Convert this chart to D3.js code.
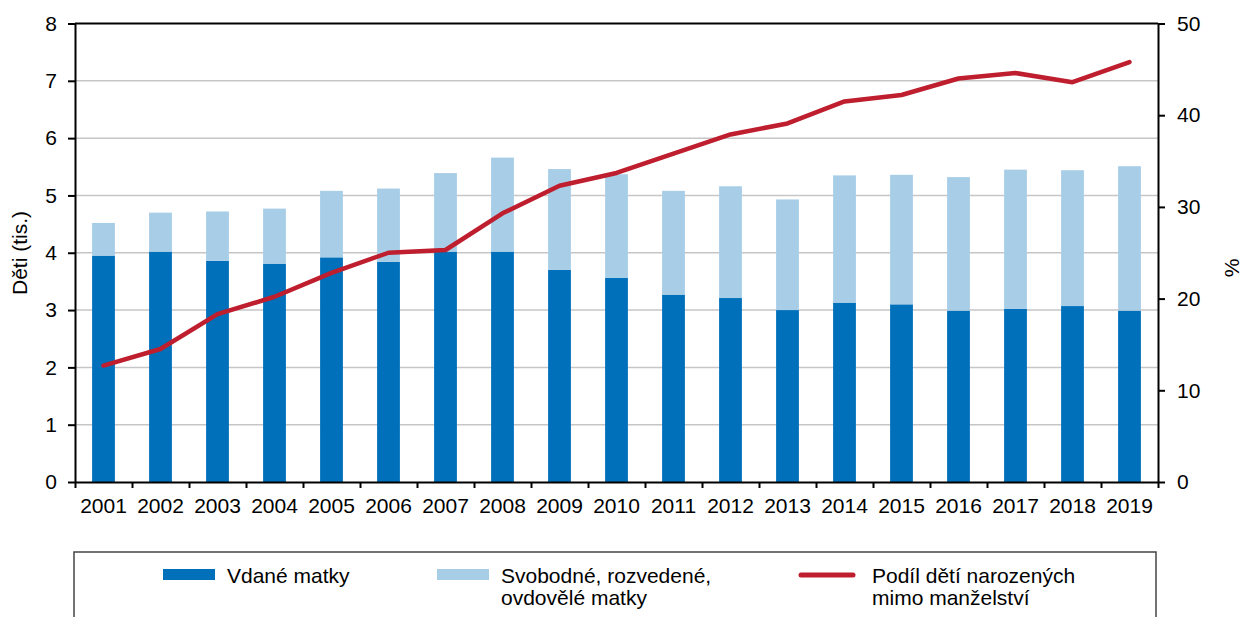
<!DOCTYPE html>
<html>
<head>
<meta charset="utf-8">
<script src="https://cdn.jsdelivr.net/npm/d3@7"></script>
<style>
  html, body { margin: 0; padding: 0; background: #fff; }
  svg { display: block; font-family: "Liberation Sans", Arial, sans-serif; }
</style>
</head>
<body>
<svg id="chart" width="1242" height="617"></svg>
<script>
const years = ["2001","2002","2003","2004","2005","2006","2007","2008","2009","2010",
               "2011","2012","2013","2014","2015","2016","2017","2018","2019"];
// thousands of children born to married mothers
const married = [3.95, 4.02, 3.86, 3.81, 3.92, 3.84, 4.02, 4.02, 3.70, 3.56,
                 3.27, 3.21, 3.00, 3.13, 3.10, 2.99, 3.02, 3.07, 2.99];
// thousands of children born to single, divorced, widowed mothers
const unmarried = [0.57, 0.68, 0.86, 0.96, 1.16, 1.28, 1.37, 1.64, 1.76, 1.81,
                   1.81, 1.95, 1.93, 2.22, 2.26, 2.33, 2.43, 2.37, 2.52];
// share of children born outside marriage (%)
const share = [12.7, 14.5, 18.3, 20.2, 22.8, 25.0, 25.3, 29.3, 32.3, 33.7,
               35.8, 37.9, 39.1, 41.5, 42.2, 44.0, 44.6, 43.6, 45.8];
const leftTicks = [0,1,2,3,4,5,6,7,8];
const rightTicks = [0,10,20,30,40,50];
const legendLabels = [["Vdané matky"], ["Svobodné, rozvedené,", "ovdovělé matky"], ["Podíl dětí narozených", "mimo manželství"]];

const C_DARK = "#0070bb", C_LIGHT = "#a7cde7", C_RED = "#be1e2d";
const FS = 21;
const L = 75, R = 1158, T = 23.5, B = 482;
const svg = d3.select("#chart");

const x = d3.scaleBand().domain(years).range([L, R]).paddingInner(0.6).paddingOuter(0.3);
const xEdge = d3.scaleLinear().domain([0, years.length]).range([L, R]);
const y = d3.scaleLinear().domain([0, 8]).range([B, T]);
const y2 = d3.scaleLinear().domain([0, 50]).range([B, T]);

// gridlines
svg.append("g").selectAll("line").data(leftTicks.filter(d => d > 0 && d < 8)).join("line")
  .attr("x1", L).attr("x2", R).attr("y1", d => y(d)).attr("y2", d => y(d))
  .attr("stroke", "#c6c6c6").attr("stroke-width", 1.5);

// bars
const rows = years.map((yr, i) => ({yr, m: married[i], u: unmarried[i]}));
svg.append("g").selectAll("rect").data(rows).join("rect")
  .attr("x", d => x(d.yr)).attr("width", x.bandwidth())
  .attr("y", d => y(d.m)).attr("height", d => y(0) - y(d.m))
  .attr("fill", C_DARK);
svg.append("g").selectAll("rect").data(rows).join("rect")
  .attr("x", d => x(d.yr)).attr("width", x.bandwidth())
  .attr("y", d => y(d.m + d.u)).attr("height", d => y(d.m) - y(d.m + d.u))
  .attr("fill", C_LIGHT);

// line
const line = d3.line().x((d, i) => x(years[i]) + x.bandwidth() / 2).y(d => y2(d));
svg.append("path").datum(share).attr("d", line)
  .attr("fill", "none").attr("stroke", C_RED).attr("stroke-width", 4.5)
  .attr("stroke-linejoin", "round").attr("stroke-linecap", "round");

function styleAxis(g) {
  g.selectAll(".domain").attr("stroke", "#000").attr("stroke-width", 2);
  g.selectAll(".tick line").attr("stroke", "#000").attr("stroke-width", 2);
  g.selectAll("text").attr("font-size", FS).attr("fill", "#000")
    .attr("font-family", "'Liberation Sans', Arial, sans-serif");
}

// top border
svg.append("line").attr("x1", L).attr("x2", R).attr("y1", T).attr("y2", T)
  .attr("stroke", "#000").attr("stroke-width", 2);

// left axis
svg.append("g").attr("transform", `translate(${L},0)`)
  .call(d3.axisLeft(y).tickValues(leftTicks).tickSize(7).tickPadding(11).tickSizeOuter(0))
  .call(styleAxis);
// right axis
svg.append("g").attr("transform", `translate(${R},0)`)
  .call(d3.axisRight(y2).tickValues(rightTicks).tickSize(7).tickPadding(12).tickSizeOuter(0))
  .call(styleAxis);
// bottom axis: tick marks at category edges
svg.append("g").attr("transform", `translate(0,${B})`)
  .call(d3.axisBottom(xEdge).tickValues(d3.range(0, years.length + 1)).tickFormat("").tickSize(6).tickSizeOuter(0))
  .call(styleAxis);
// bottom labels
svg.append("g").attr("transform", `translate(0,${B})`)
  .call(d3.axisBottom(x).tickSize(0).tickPadding(16))
  .call(g => g.select(".domain").remove())
  .call(styleAxis);

// axis titles
svg.append("text").attr("transform", "translate(27,253) rotate(-90)")
  .attr("text-anchor", "middle").attr("font-size", FS).text("Děti (tis.)");
svg.append("text").attr("transform", "translate(1239,268) rotate(-90)")
  .attr("text-anchor", "middle").attr("font-size", FS).text("%");

// legend
svg.append("rect").attr("x", 74).attr("y", 552).attr("width", 1082).attr("height", 80)
  .attr("fill", "none").attr("stroke", "#444").attr("stroke-width", 1.5);
const lg = svg.append("g");
const items = [
  {type: "rect", color: C_DARK, sx: 163, tx: 227, lines: legendLabels[0]},
  {type: "rect", color: C_LIGHT, sx: 437, tx: 501, lines: legendLabels[1]},
  {type: "line", color: C_RED, sx: 801, tx: 872, lines: legendLabels[2]}
];
items.forEach(it => {
  if (it.type === "rect") {
    lg.append("rect").attr("x", it.sx).attr("y", 569).attr("width", 52).attr("height", 11).attr("fill", it.color);
  } else {
    lg.append("line").attr("x1", it.sx).attr("x2", it.sx + 52).attr("y1", 575).attr("y2", 575)
      .attr("stroke", it.color).attr("stroke-width", 5).attr("stroke-linecap", "round");
  }
  const t = lg.append("text").attr("x", it.tx).attr("y", 582.5).attr("font-size", FS).attr("fill", "#000");
  it.lines.forEach((s, i) => t.append("tspan").attr("x", it.tx).attr("dy", i === 0 ? 0 : 22.5).text(s));
});
</script>
</body>
</html>
